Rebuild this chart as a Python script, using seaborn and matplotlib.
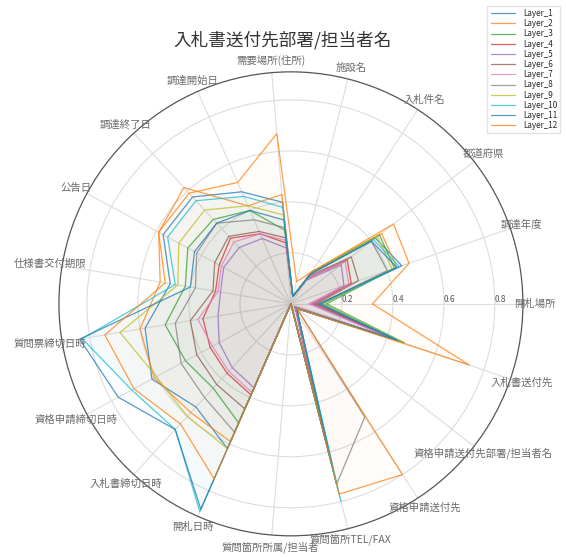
import numpy as np
import pandas as pd
import matplotlib
matplotlib.use("Agg")
import matplotlib.pyplot as plt
import seaborn as sns

# radar categories, counter-clockwise from the 0 degree axis
categories = ['開札場所', '調達年度', '都道府県', '入札件名', '施設名', '需要場所(住所)',
              '調達開始日', '調達終了日', '公告日', '仕様書交付期限', '質問票締切日時',
              '資格申請締切日時', '入札書締切日時', '開札日時', '質問箇所所属/担当者',
              '質問箇所TEL/FAX', '資格申請送付先', '資格申請送付先部署/担当者名', '入札書送付先']

layer_1 = [0.12, 0.46, 0.42, 0.14, 0.03, 0.40, 0.48, 0.57, 0.57, 0.48, 0.58, 0.62, 0.55, 0.62, 0.0, 0.73, 0.05, 0.03, 0.45]
layer_2 = [0.12, 0.44, 0.45, 0.15, 0.03, 0.43, 0.42, 0.62, 0.59, 0.52, 0.60, 0.61, 0.58, 0.59, 0.0, 0.61, 0.05, 0.03, 0.46]
layer_3 = [0.14, 0.43, 0.44, 0.15, 0.03, 0.29, 0.40, 0.45, 0.46, 0.42, 0.50, 0.47, 0.45, 0.51, 0.0, 0.46, 0.05, 0.03, 0.47]
layer_4 = [0.09, 0.25, 0.28, 0.12, 0.03, 0.24, 0.30, 0.35, 0.32, 0.30, 0.35, 0.36, 0.37, 0.39, 0.0, 0.42, 0.04, 0.02, 0.44]
layer_5 = [0.08, 0.22, 0.25, 0.11, 0.03, 0.22, 0.28, 0.30, 0.30, 0.28, 0.29, 0.32, 0.34, 0.36, 0.0, 0.38, 0.04, 0.02, 0.42]
layer_6 = [0.10, 0.28, 0.30, 0.13, 0.03, 0.26, 0.31, 0.36, 0.34, 0.31, 0.40, 0.42, 0.43, 0.45, 0.0, 0.45, 0.04, 0.02, 0.44]
layer_7 = [0.07, 0.24, 0.27, 0.12, 0.03, 0.25, 0.30, 0.33, 0.31, 0.29, 0.37, 0.35, 0.36, 0.38, 0.0, 0.40, 0.04, 0.02, 0.43]
layer_8 = [0.11, 0.40, 0.40, 0.14, 0.03, 0.30, 0.36, 0.43, 0.42, 0.38, 0.46, 0.49, 0.50, 0.55, 0.0, 0.73, 0.53, 0.03, 0.45]
layer_9 = [0.13, 0.42, 0.43, 0.15, 0.03, 0.35, 0.42, 0.50, 0.50, 0.45, 0.68, 0.60, 0.60, 0.62, 0.0, 0.61, 0.05, 0.03, 0.46]
layer_10 = [0.12, 0.45, 0.41, 0.14, 0.03, 0.38, 0.46, 0.55, 0.55, 0.46, 0.83, 0.71, 0.67, 0.89, 0.0, 0.80, 0.05, 0.03, 0.45]
layer_11 = [0.11, 0.44, 0.40, 0.14, 0.03, 0.33, 0.40, 0.43, 0.43, 0.40, 0.84, 0.77, 0.67, 0.88, 0.0, 0.65, 0.05, 0.03, 0.44]
layer_12 = [0.32, 0.49, 0.51, 0.15, 0.09, 0.67, 0.52, 0.59, 0.59, 0.50, 0.74, 0.70, 0.64, 0.75, 0.0, 0.77, 0.80, 0.03, 0.74]

layers = [layer_1, layer_2, layer_3, layer_4, layer_5, layer_6,
          layer_7, layer_8, layer_9, layer_10, layer_11, layer_12]
names = ['Layer_%d' % (i + 1) for i in range(len(layers))]

sns.set_theme(style="whitegrid")
plt.rcParams['font.family'] = ['Noto Sans CJK JP', 'DejaVu Sans']

n = len(categories)
angles = np.linspace(0, 2 * np.pi, n, endpoint=False)

# long table, polygon closed by repeating the first value at 2*pi
rows = []
for name, vals in zip(names, layers):
    for k in range(n):
        rows.append({'layer': name, 'theta': angles[k], 'r': vals[k]})
    rows.append({'layer': name, 'theta': 2 * np.pi, 'r': vals[0]})
df = pd.DataFrame(rows)

palette = sns.color_palette("tab10", 10)
colors = [palette[i % 10] for i in range(len(layers))]

fig = plt.figure(figsize=(5.66, 5.57), dpi=100)
ax = fig.add_axes([0.104, 0.038, 0.82, 0.833], projection='polar')

sns.lineplot(data=df, x='theta', y='r', hue='layer', palette=colors, sort=False,
             estimator=None, units='layer', linewidth=0.9, alpha=0.75, ax=ax, legend=False)
for name, c in zip(names, colors):
    d = df[df['layer'] == name]
    ax.fill(d['theta'], d['r'], color=c, alpha=0.02, linewidth=0)

ax.set_ylim(0, 0.91)
ax.set_xticks(angles)
ax.set_xticklabels([])
# category names centred just outside the rim
for a, lab in zip(angles, categories):
    ax.text(a, 0.957, lab, ha='center', va='center', fontsize=7.5, color='#6a6a6a')
ax.set_yticks([0.2, 0.4, 0.6, 0.8])
ax.set_yticklabels(['0.2', '0.4', '0.6', '0.8'], fontsize=6, color='#555555')
ax.set_rlabel_position(0)
ax.set_xlabel('')
ax.set_ylabel('')
ax.grid(color='#dddddd', linewidth=0.8)
ax.spines['polar'].set_color('#555555')
ax.spines['polar'].set_linewidth(0.9)

fig.text(0.5, 0.928, '入札書送付先部署/担当者名', ha='center', va='center',
         fontsize=12.7, color='#333333')

handles = [plt.Line2D([], [], color=c, linewidth=0.9, alpha=0.75) for c in colors]
fig.legend(handles, names, loc='upper right', bbox_to_anchor=(0.997, 0.997),
           fontsize=5.8, frameon=True, handlelength=3.0, labelspacing=0.15,
           borderpad=0.4, handletextpad=1.0, edgecolor='#dddddd', fancybox=False)

fig.savefig('out.png', dpi=100)
